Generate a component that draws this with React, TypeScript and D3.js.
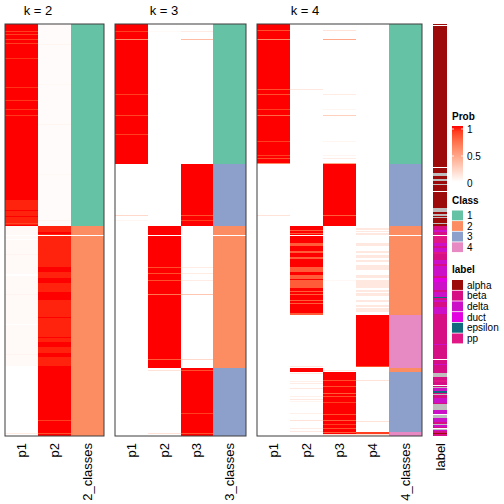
import React from "react";
import * as d3 from "d3";

// ---------- data ----------
const N = 412; // number of samples (rows)
const blankRows = [211];

type Seg = [number, number, number];

const k2Cols = ["p1", "p2", "2_classes"];
const k3Cols = ["p1", "p2", "p3", "3_classes"];
const k4Cols = ["p1", "p2", "p3", "p4", "4_classes"];

// k = 2
const k2P1Base: Seg[] = [[0, 202, 1], [202, 342, 0.03], [342, 412, 0]];
const k2P1Stripes: Seg[] = [[7, 8, 0.9], [10, 11, 0.9], [15, 16, 0.9], [19, 20, 0.9], [34, 35, 0.93], [63, 64, 0.93], [76, 77, 0.92], [85, 86, 0.93], [91, 92, 0.92], [176, 201, 0.965], [186, 187, 1], [192, 193, 1], [199, 200, 0.88], [215, 216, 0], [230, 231, 0.06], [250, 252, 0], [270, 271, 0.06], [300, 301, 0], [330, 331, 0.06], [409, 410, 0.1]];
const k2P2Base: Seg[] = [[0, 202, 0.02], [202, 342, 0.965], [342, 412, 1]];
const k2P2Stripes: Seg[] = [[20, 21, 0.05], [60, 61, 0.04], [100, 101, 0.05], [150, 151, 0.04], [196, 197, 0.06], [208, 210, 1], [243, 248, 1], [254, 259, 1], [268, 276, 1], [293, 294, 1], [313, 314, 1], [318, 323, 1], [329, 333, 1], [396, 397, 0.9], [409, 410, 0.85]];
const k2Class: Seg[] = [[0, 202, 1], [202, 412, 2]];

// k = 3
const k3P1Base: Seg[] = [[0, 140, 1], [140, 412, 0]];
const k3P1Stripes: Seg[] = [[7, 8, 0.9], [15, 16, 0.6], [70, 71, 0.9], [91, 92, 0.88], [110, 111, 0.9], [191, 192, 0.2], [196, 197, 0.05]];
const k3P2Base: Seg[] = [[0, 202, 0], [202, 344, 1], [344, 412, 0]];
const k3P2Stripes: Seg[] = [[7, 8, 0.03], [243, 244, 0.85], [249, 250, 0.85], [256, 257, 0.85], [270, 271, 0.7], [335, 336, 0.8], [346, 347, 0.15], [409, 410, 0.15]];
const k3P3Base: Seg[] = [[0, 140, 0], [140, 202, 1], [202, 344, 0], [344, 412, 1]];
const k3P3Stripes: Seg[] = [[7, 8, 0.1], [15, 16, 0.35], [191, 192, 0.85], [196, 197, 0.9], [243, 244, 0.1], [249, 250, 0.1], [256, 257, 0.1], [270, 271, 0.3], [335, 336, 0.2], [346, 347, 0.85], [389, 390, 0.9], [409, 410, 0.85]];
const k3Class: Seg[] = [[0, 140, 1], [140, 202, 3], [202, 344, 2], [344, 412, 3]];

// k = 4
const k4P1Base: Seg[] = [[0, 140, 1], [140, 412, 0]];
const k4P1Stripes: Seg[] = [[6, 7, 0.85], [15, 16, 0.6], [65, 66, 0.85], [70, 71, 0.85], [85, 86, 0.9], [91, 92, 0.75], [117, 118, 0.9], [131, 132, 0.9], [134, 135, 0.85], [139, 140, 0.6], [191, 192, 0.15]];
const k4P2Base: Seg[] = [[0, 202, 0], [202, 291, 1], [291, 344, 0], [344, 348, 1], [348, 412, 0]];
const k4P2Stripes: Seg[] = [[65, 66, 0.12], [206, 207, 0.8], [209, 210, 0.8], [219, 222, 0.8], [227, 229, 0.8], [233, 235, 0.8], [243, 248, 0.8], [251, 255, 0.8], [256, 264, 0.8], [267, 268, 0.8], [270, 271, 0.8], [276, 277, 0.8], [279, 280, 0.8], [289, 291, 0.8], [342, 343, 0.12], [349, 350, 0.1], [357, 358, 0.08], [359, 360, 0.1], [364, 365, 0.12], [372, 373, 0.08], [375, 376, 0.12], [377, 378, 0.06], [389, 390, 0.08], [396, 397, 0.15], [404, 405, 0.1], [407, 408, 0.12]];
const k4P3Base: Seg[] = [[0, 140, 0], [140, 202, 1], [202, 348, 0], [348, 412, 1]];
const k4P3Stripes: Seg[] = [[6, 7, 0.15], [15, 16, 0.45], [70, 71, 0.1], [85, 86, 0.05], [91, 92, 0.25], [117, 118, 0.05], [131, 132, 0.05], [134, 135, 0.1], [139, 140, 0.45], [191, 192, 0.8], [256, 257, 0.04], [346, 347, 0.1], [356, 357, 0.85], [362, 363, 0.85], [369, 370, 0.8], [372, 373, 0.85], [378, 379, 0.9], [390, 391, 0.85], [396, 397, 0.8], [400, 401, 0.9], [404, 405, 0.85], [408, 409, 0.8], [410, 412, 0.15]];
const k4P4Base: Seg[] = [[0, 291, 0], [291, 343, 1], [343, 408, 0], [408, 410, 0.9], [410, 412, 0.15]];
const k4P4Stripes: Seg[] = [[204, 206, 0.12], [207, 208, 0.12], [209, 211, 0.12], [219, 222, 0.12], [227, 229, 0.12], [231, 234, 0.12], [236, 238, 0.12], [241, 246, 0.12], [251, 254, 0.12], [256, 264, 0.12], [266, 268, 0.12], [269, 272, 0.12], [276, 278, 0.12], [281, 283, 0.12], [284, 288, 0.12], [342, 343, 0.85], [356, 357, 0.15], [397, 398, 0.15]];
const k4Class: Seg[] = [[0, 140, 1], [140, 202, 3], [202, 291, 2], [291, 344, 4], [344, 348, 2], [348, 408, 3], [408, 412, 4]];

// sample labels: [start, end, label]
const labelNames = ["alpha", "beta", "delta", "duct", "epsilon", "pp"];
const labelColors = ["#9D0A0A", "#D60F84", "#CC10C8", "#E300E0", "#0E6A7C", "#E01785"];
const sampleLabels: [number, number, string][] = [
  [0, 202, "alpha"], [1, 2, "blank"], [143, 144, "blank"], [149, 152, "NA"], [155, 157, "NA"], [160, 161, "NA"], [167, 168, "blank"],
  [184, 188, "NA"], [190, 192, "NA"], [193, 194, "NA"], [199, 200, "NA"],
  [202, 206, "beta"], [206, 208, "delta"], [208, 211, "beta"], [211, 212, "blank"], [212, 219, "pp"],
  [219, 222, "delta"], [222, 224, "beta"], [224, 228, "delta"], [228, 230, "pp"], [230, 236, "beta"], [236, 240, "delta"], [240, 242, "beta"],
  [242, 252, "delta"], [252, 254, "beta"], [254, 258, "duct"], [258, 266, "delta"], [266, 268, "beta"], [268, 273, "delta"], [273, 274, "epsilon"],
  [274, 276, "beta"], [276, 278, "delta"], [278, 283, "beta"], [283, 290, "delta"], [290, 320, "beta"], [320, 321, "delta"], [321, 335, "beta"],
  [335, 336, "blank"], [336, 340, "beta"], [340, 341, "delta"], [341, 349, "beta"], [349, 353, "NA"], [353, 356, "beta"], [356, 358, "pp"],
  [358, 361, "beta"], [361, 362, "blank"], [362, 363, "beta"], [363, 364, "NA"], [364, 367, "delta"], [367, 369, "epsilon"], [369, 370, "beta"],
  [370, 371, "NA"], [371, 374, "beta"], [374, 379, "delta"], [379, 380, "beta"], [380, 386, "NA"], [386, 390, "delta"], [390, 391, "blank"],
  [391, 394, "NA"], [394, 398, "delta"], [398, 400, "beta"], [400, 401, "NA"], [401, 403, "delta"], [403, 404, "beta"], [404, 405, "blank"],
  [405, 406, "NA"], [406, 407, "delta"], [407, 409, "beta"], [409, 410, "alpha"], [410, 412, "beta"],
];

const classNames = ["1", "2", "3", "4"];
const classColors = ["#66C2A5", "#FC8D62", "#8DA0CB", "#E78AC3"];
const probTicks = [0, 0.5, 1];
const panelTitles = ["k = 2", "k = 3", "k = 4"];

// ---------- layout ----------
const FONT = "'Liberation Sans', Arial, Helvetica, sans-serif";
const TOP = 24, BOTTOM = 436;

const probColor = d3.scaleLinear<string>().domain([0, 1]).range(["#ffffff", "#ff0000"]).interpolate(d3.interpolateLab);
const classColor = d3.scaleOrdinal<string, string>().domain(classNames).range(classColors);
const labelColor = d3.scaleOrdinal<string, string>().domain(labelNames).range(labelColors);
const y = d3.scaleLinear().domain([0, N]).range([TOP, BOTTOM]);

type Col = { name: string; kind: "prob" | "class"; base: Seg[]; stripes: Seg[] };
type Panel = { title: string; x0: number; x1: number; titleX: number; cols: Col[] };

const panels: Panel[] = [
  {
    title: panelTitles[0], x0: 5, x1: 104, titleX: 38,
    cols: [
      { name: k2Cols[0], kind: "prob", base: k2P1Base, stripes: k2P1Stripes },
      { name: k2Cols[1], kind: "prob", base: k2P2Base, stripes: k2P2Stripes },
      { name: k2Cols[2], kind: "class", base: k2Class, stripes: [] },
    ],
  },
  {
    title: panelTitles[1], x0: 115, x1: 246, titleX: 164,
    cols: [
      { name: k3Cols[0], kind: "prob", base: k3P1Base, stripes: k3P1Stripes },
      { name: k3Cols[1], kind: "prob", base: k3P2Base, stripes: k3P2Stripes },
      { name: k3Cols[2], kind: "prob", base: k3P3Base, stripes: k3P3Stripes },
      { name: k3Cols[3], kind: "class", base: k3Class, stripes: [] },
    ],
  },
  {
    title: panelTitles[2], x0: 257, x1: 422, titleX: 305,
    cols: [
      { name: k4Cols[0], kind: "prob", base: k4P1Base, stripes: k4P1Stripes },
      { name: k4Cols[1], kind: "prob", base: k4P2Base, stripes: k4P2Stripes },
      { name: k4Cols[2], kind: "prob", base: k4P3Base, stripes: k4P3Stripes },
      { name: k4Cols[3], kind: "prob", base: k4P4Base, stripes: k4P4Stripes },
      { name: k4Cols[4], kind: "class", base: k4Class, stripes: [] },
    ],
  },
];

const LABEL_X0 = 433, LABEL_X1 = 447;

function PanelView({ p }: { p: Panel }) {
  const xb = d3.scaleBand<string>().domain(p.cols.map((c, i) => String(i))).range([p.x0, p.x1]);
  return (
    <g>
      {p.cols.map((c, i) => {
        const x = xb(String(i))!;
        const w = xb.bandwidth();
        const fill = (v: number) => (c.kind === "prob" ? probColor(v) : classColor(String(v)));
        return (
          <g key={i} shapeRendering="crispEdges">
            {c.base.map((s, j) => (
              <rect key={"b" + j} x={x} y={y(s[0])} width={w} height={y(s[1]) - y(s[0])} fill={fill(s[2])} />
            ))}
            {c.stripes.map((s, j) => (
              <rect key={"s" + j} x={x} y={y(s[0])} width={w} height={y(s[1]) - y(s[0])} fill={fill(s[2])} />
            ))}
            {blankRows.map((r, j) => (
              <rect key={"w" + j} x={x} y={y(r)} width={w} height={y(r + 1) - y(r)} fill="#ffffff" />
            ))}
            <text
              transform={`translate(${x + w / 2 + 4.5},443) rotate(-90)`}
              textAnchor="end"
              fontFamily={FONT}
              fontSize={13}
              fill="#000"
            >
              {c.name}
            </text>
          </g>
        );
      })}
      <rect x={p.x0} y={TOP} width={p.x1 - p.x0} height={BOTTOM - TOP} fill="none" stroke="#3c3c3c" strokeWidth={1} />
      <text x={p.titleX} y={15} textAnchor="middle" fontFamily={FONT} fontSize={13} fill="#000">
        {p.title}
      </text>
    </g>
  );
}

function Legends() {
  const gy = d3.scaleLinear().domain([0, 1]).range([183, 129]);
  const LX = 452, LW = 11;
  const stops = d3.range(0, 1.0001, 0.1);
  return (
    <g fontFamily={FONT} fontSize={10} fill="#000">
      <defs>
        <linearGradient id="probGrad" x1="0" y1="1" x2="0" y2="0">
          {stops.map((t) => (
            <stop key={t} offset={t} stopColor={probColor(t)} />
          ))}
        </linearGradient>
      </defs>
      <text x={LX} y={120} fontWeight="bold">Prob</text>
      <rect x={LX} y={126} width={LW} height={56} fill="url(#probGrad)" />
      {probTicks.map((t) => (
        <g key={t}>
          <line x1={LX} x2={LX + 2} y1={Math.min(gy(t), 181)} y2={Math.min(gy(t), 181)} stroke="#fff" strokeWidth={0.8} />
          <line x1={LX + LW - 2} x2={LX + LW} y1={Math.min(gy(t), 181)} y2={Math.min(gy(t), 181)} stroke="#fff" strokeWidth={0.8} />
          <text x={LX + LW + 4} y={gy(t) + 3.5}>{String(t)}</text>
        </g>
      ))}

      <text x={LX} y={204} fontWeight="bold">Class</text>
      {classNames.map((c, i) => {
        const yy = 210.5 + i * 10.6;
        return (
          <g key={c}>
            <rect x={LX} y={yy} width={LW} height={9.8} fill={classColor(c)} />
            <text x={LX + LW + 4} y={yy + 8.5}>{c}</text>
          </g>
        );
      })}

      <text x={LX} y={273} fontWeight="bold">label</text>
      {labelNames.map((c, i) => {
        const yy = 280 + i * 10.7;
        return (
          <g key={c}>
            <rect x={LX} y={yy} width={LW} height={9.9} fill={labelColor(c)} />
            <text x={LX + LW + 4} y={yy + 8.5}>{c}</text>
          </g>
        );
      })}
    </g>
  );
}

function LabelColumn() {
  const fillFor = (l: string) => (l === "NA" ? "#BEBEBE" : l === "blank" ? "#ffffff" : labelColor(l));
  return (
    <g>
      <g shapeRendering="crispEdges">
        {sampleLabels.map((s, i) => (
          <rect key={i} x={LABEL_X0} y={y(s[0])} width={LABEL_X1 - LABEL_X0} height={y(s[1]) - y(s[0])} fill={fillFor(s[2])} />
        ))}
      </g>
      <text
        transform={`translate(${(LABEL_X0 + LABEL_X1) / 2 + 4.5},443) rotate(-90)`}
        textAnchor="end"
        fontFamily={FONT}
        fontSize={13}
      >
        label
      </text>
    </g>
  );
}

export default function App() {
  return (
    <svg width={504} height={504} style={{ position: "absolute", left: 0, top: 0, background: "#fff" }}>
      <rect x={0} y={0} width={504} height={504} fill="#fff" />
      {panels.map((p, i) => (
        <PanelView key={i} p={p} />
      ))}
      <LabelColumn />
      <Legends />
    </svg>
  );
}
